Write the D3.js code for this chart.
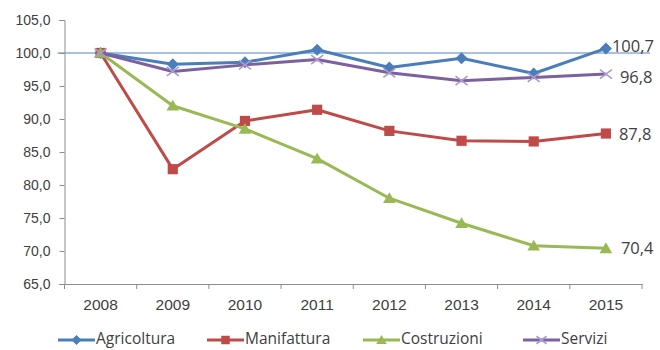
<!DOCTYPE html>
<html>
<head>
<meta charset="utf-8">
<script src="https://cdn.jsdelivr.net/npm/d3@7"></script>
<style>
  html, body { margin: 0; padding: 0; background: #fff; }
  svg { display: block; font-family: "Open Sans", Lato, sans-serif; }
</style>
</head>
<body>
<svg id="chart" width="660" height="350"></svg>
<script>
// Indici di valore aggiunto per settore (2008 = 100)
const years = ["2008", "2009", "2010", "2011", "2012", "2013", "2014", "2015"];
const agricoltura = [100.0, 98.3, 98.6, 100.5, 97.8, 99.2, 96.9, 100.7];
const manifattura = [100.0, 82.4, 89.7, 91.4, 88.2, 86.7, 86.6, 87.8];
const costruzioni = [100.0, 92.0, 88.5, 84.0, 78.0, 74.2, 70.8, 70.4];
const servizi = [100.0, 97.2, 98.2, 99.0, 97.0, 95.8, 96.3, 96.8];
const yTicks = [65, 70, 75, 80, 85, 90, 95, 100, 105];
const seriesNames = ["Agricoltura", "Manifattura", "Costruzioni", "Servizi"];

const series = [
  { name: seriesNames[0], values: agricoltura, color: "#4A7EBB", marker: "diamond" },
  { name: seriesNames[1], values: manifattura, color: "#BE4B48", marker: "square" },
  { name: seriesNames[2], values: costruzioni, color: "#98B954", marker: "triangle" },
  { name: seriesNames[3], values: servizi, color: "#7D60A0", marker: "cross" }
];

const fmt = v => d3.format(".1f")(v).replace(".", ",");

const svg = d3.select("#chart");
const plotLeft = 64.5, plotRight = 642, plotTop = 20, plotBottom = 284;

const x = d3.scaleBand().domain(years).range([plotLeft, plotRight]);
const y = d3.scaleLinear().domain([65, 105]).range([plotBottom, plotTop]);

const axisColor = "#8C8C8C";
const textColor = "#404040";

// Reference line at 100
svg.append("line")
  .attr("x1", plotLeft - 7).attr("x2", 650)
  .attr("y1", y(100)).attr("y2", y(100))
  .attr("stroke", "#8EAADB").attr("stroke-width", 1.5);

// Y axis
const yAxis = svg.append("g")
  .attr("transform", `translate(${plotLeft},0)`)
  .call(d3.axisLeft(y).tickValues(yTicks).tickSize(5).tickFormat(fmt));
yAxis.select(".domain").attr("stroke", axisColor);
yAxis.selectAll(".tick line").attr("stroke", axisColor);
yAxis.selectAll(".tick text")
  .attr("fill", textColor).attr("font-size", 14).attr("x", -14);

// X axis with ticks between categories
const xAxis = svg.append("g")
  .attr("transform", `translate(0,${plotBottom})`)
  .call(d3.axisBottom(x).tickSize(0).tickPadding(0));
xAxis.select(".domain").attr("stroke", axisColor);
xAxis.selectAll(".tick text")
  .attr("fill", textColor).attr("font-size", 15.5)
  .attr("dy", null).attr("y", 22).attr("dominant-baseline", "middle");
svg.append("g").selectAll("line")
  .data(d3.range(years.length + 1))
  .join("line")
  .attr("x1", i => plotLeft + i * x.step()).attr("x2", i => plotLeft + i * x.step())
  .attr("y1", plotBottom).attr("y2", plotBottom + 5)
  .attr("stroke", axisColor);

const cx = i => x(years[i]) + x.bandwidth() / 2;

function drawMarker(g, type, color, size) {
  const s = size;
  if (type === "diamond") {
    g.append("path").attr("d", `M0,${-s}L${s},0L0,${s}L${-s},0Z`).attr("fill", color);
  } else if (type === "square") {
    g.append("rect").attr("x", -s * 0.85).attr("y", -s * 0.85)
      .attr("width", s * 1.7).attr("height", s * 1.7).attr("fill", color);
  } else if (type === "triangle") {
    g.append("path").attr("d", `M0,${-s}L${s * 1.05},${s * 0.8}L${-s * 1.05},${s * 0.8}Z`).attr("fill", color);
  } else if (type === "cross") {
    g.append("path").attr("d", `M${-s},${-s * 0.75}L${s},${s * 0.75}M${-s},${s * 0.75}L${s},${-s * 0.75}`)
      .attr("stroke", "#A99BC9").attr("stroke-width", 1.6).attr("fill", "none");
  }
}

const line = d3.line().x((d, i) => cx(i)).y(d => y(d));

series.forEach(s => {
  svg.append("path")
    .datum(s.values)
    .attr("d", line)
    .attr("fill", "none")
    .attr("stroke", s.color)
    .attr("stroke-width", 3)
    .attr("stroke-linejoin", "round");
  s.values.forEach((v, i) => {
    const g = svg.append("g").attr("transform", `translate(${cx(i)},${y(v)})`);
    drawMarker(g, s.marker, s.color, 6);
  });
});

// End-of-series value labels
const labelOffset = { Agricoltura: [6, -1], Manifattura: [13, 2], Costruzioni: [15, 1], Servizi: [14, 4] };
series.forEach(s => {
  const last = s.values.length - 1;
  const o = labelOffset[s.name];
  svg.append("text")
    .attr("x", cx(last) + o[0])
    .attr("y", y(s.values[last]) + o[1])
    .attr("dominant-baseline", "middle")
    .attr("fill", textColor)
    .attr("font-size", 16.5)
    .text(fmt(s.values[last]));
});

// Legend
const legendX = [58, 207, 363, 523];
const legend = svg.append("g").attr("transform", "translate(0,340)");
series.forEach((s, i) => {
  const g = legend.append("g").attr("transform", `translate(${legendX[i]},0)`);
  g.append("line").attr("x1", 0).attr("x2", 37).attr("y1", 0).attr("y2", 0)
    .attr("stroke", s.color).attr("stroke-width", 3);
  const m = g.append("g").attr("transform", "translate(18.5,0)");
  drawMarker(m, s.marker, s.color, 5);
  g.append("text").attr("x", 38).attr("y", 0)
    .attr("dominant-baseline", "middle")
    .attr("fill", textColor).attr("font-size", 15.5)
    .text(s.name);
});
</script>
</body>
</html>
